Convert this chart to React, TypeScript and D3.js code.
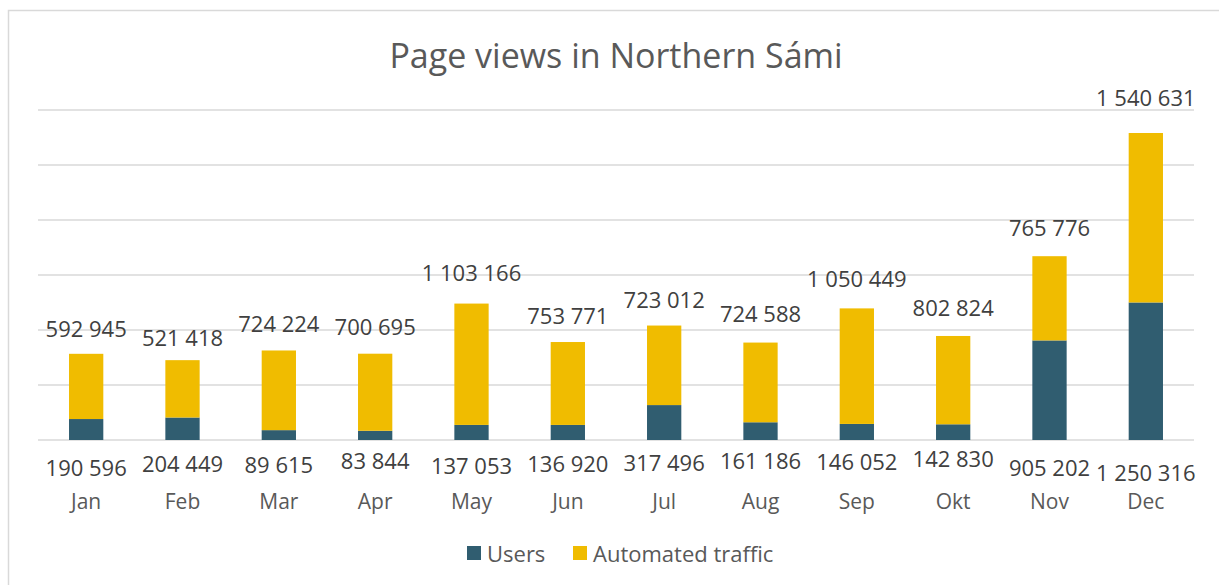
import * as d3 from 'd3'

// data
const months = ['Jan', 'Feb', 'Mar', 'Apr', 'May', 'Jun', 'Jul', 'Aug', 'Sep', 'Okt', 'Nov', 'Dec']
const users = [190596, 204449, 89615, 83844, 137053, 136920, 317496, 161186, 146052, 142830, 905202, 1250316]
const automated = [592945, 521418, 724224, 700695, 1103166, 753771, 723012, 724588, 1050449, 802824, 765776, 1540631]
const gridTicks = [0, 500000, 1000000, 1500000, 2000000, 2500000, 3000000]

// labels were dragged by hand in the original, so keep their nudges (px)
const topLift = [26, 23, 27, 28, 32, 27, 27, 30, 30, 29, 29, 36]
const bottomDrop = [27, 23, 24, 20, 25, 23, 22, 20, 21, 18, 27, 32]

const W = 1219
const H = 585
const margin = { top: 110, right: 25, bottom: 145, left: 38 }
const FONT = '"Open Sans", "DejaVu Sans", sans-serif'
const USERS_COLOR = '#305D70'
const AUTO_COLOR = '#F0BC00'

const fmt = (v: number) => d3.format(',')(v).replace(/,/g, ' ')

export default function App() {
  const x = d3.scaleBand<string>()
    .domain(months)
    .range([margin.left, W - margin.right])
    .paddingInner(0.644)
    .paddingOuter(0.322)

  const y = d3.scaleLinear()
    .domain([0, 3000000])
    .range([H - margin.bottom, margin.top])

  const rows = months.map((m, i) => ({ m, u: users[i], a: automated[i], i }))
  const stack = d3.stack<any>().keys(['u', 'a'])(rows)
  const colors = [USERS_COLOR, AUTO_COLOR]
  const base = y(0)

  return (
    <svg width={W} height={H} style={{ position: 'absolute', left: 0, top: 0, background: '#fff' }}>
      <rect x={8.5} y={10.5} width={1260} height={620} fill="#fff" stroke="#D9D9D9" strokeWidth={1.5} />

      <text x={616} y={55} textAnchor="middle" dominantBaseline="central"
        style={{ fontFamily: FONT, fontSize: 34, fill: '#595959' }}>
        Page views in Northern Sámi
      </text>

      {/* gridlines */}
      {gridTicks.map(t => (
        <line key={t} x1={margin.left} x2={W - margin.right} y1={y(t)} y2={y(t)}
          stroke="#D9D9D9" strokeWidth={1.6} />
      ))}

      {/* stacked bars */}
      {stack.map((layer, k) => (
        <g key={layer.key} fill={colors[k]}>
          {layer.map((d, i) => (
            <rect key={i} x={x(months[i])} width={x.bandwidth()}
              y={y(d[1])} height={y(d[0]) - y(d[1])} />
          ))}
        </g>
      ))}

      {/* automated traffic labels above bars */}
      {rows.map(r => (
        <text key={'t' + r.m} x={x(r.m)! + x.bandwidth() / 2} y={y(r.u + r.a) - topLift[r.i]}
          textAnchor="middle" dominantBaseline="central"
          style={{ fontFamily: FONT, fontSize: 22, fill: '#404040' }}>
          {fmt(r.a)}
        </text>
      ))}

      {/* users labels below axis */}
      {rows.map(r => (
        <text key={'b' + r.m} x={x(r.m)! + x.bandwidth() / 2} y={base + bottomDrop[r.i]}
          textAnchor="middle" dominantBaseline="central"
          style={{ fontFamily: FONT, fontSize: 22, fill: '#404040' }}>
          {fmt(r.u)}
        </text>
      ))}

      {/* category axis */}
      {months.map(m => (
        <text key={m} x={x(m)! + x.bandwidth() / 2} y={base + 61}
          textAnchor="middle" dominantBaseline="central"
          style={{ fontFamily: FONT, fontSize: 21, fill: '#595959' }}>
          {m}
        </text>
      ))}

      {/* legend */}
      <g style={{ fontFamily: FONT, fontSize: 22, fill: '#595959' }}>
        <rect x={467} y={546} width={14} height={14} fill={USERS_COLOR} />
        <text x={487} y={553} dominantBaseline="central">Users</text>
        <rect x={573} y={546} width={14} height={14} fill={AUTO_COLOR} />
        <text x={593} y={553} dominantBaseline="central">Automated traffic</text>
      </g>
    </svg>
  )
}
